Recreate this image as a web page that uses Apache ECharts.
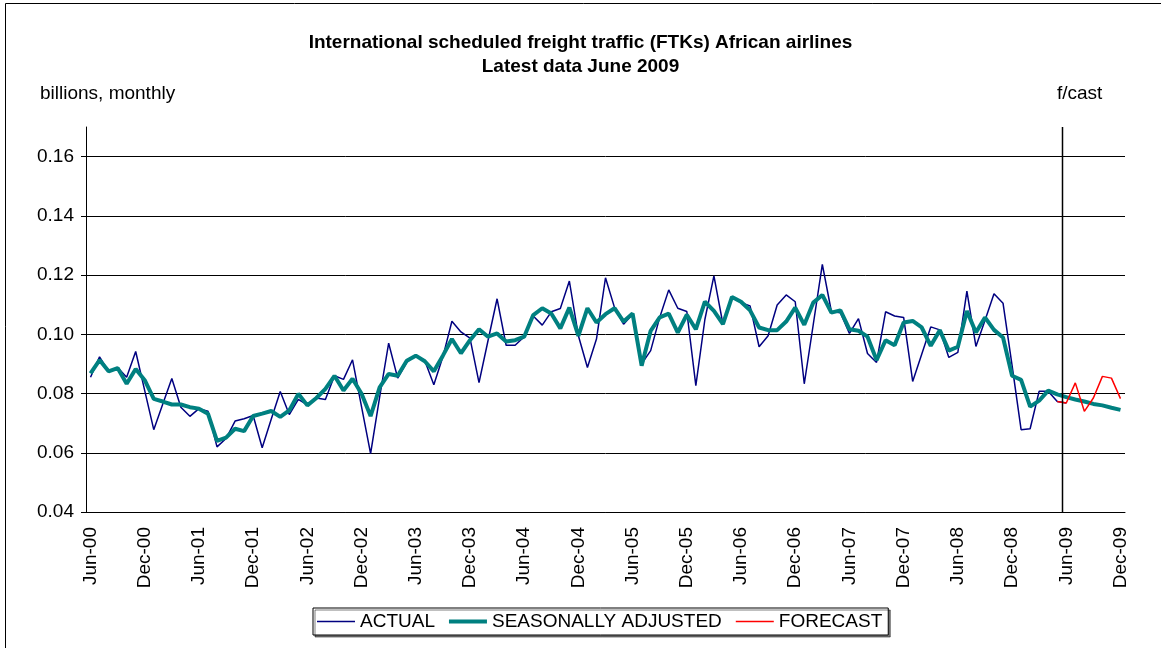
<!DOCTYPE html>
<html>
<head>
<meta charset="utf-8">
<script src="https://cdn.jsdelivr.net/npm/echarts@6/dist/echarts.min.js"></script>
<style>
html,body{margin:0;padding:0;background:#fff;}
#chart{width:1161px;height:648px;}
</style>
</head>
<body>
<div id="chart"></div>
<script>
// month labels Jun-00 .. Dec-09
const monthNames = ['Jan','Feb','Mar','Apr','May','Jun','Jul','Aug','Sep','Oct','Nov','Dec'];
const categories = [];
for (let y = 2000; y <= 2009; y++) {
    for (let m = 0; m < 12; m++) {
        if (y === 2000 && m < 5) continue;
        categories.push(monthNames[m] + '-' + String(y).slice(2));
    }
}

const yTicks = [0.04, 0.06, 0.08, 0.10, 0.12, 0.14, 0.16];

// billions FTK, Jun-00 .. Jun-09
const actual = [
    0.0855,0.0924,0.0875,0.0888,0.0855,0.0942,0.0810,0.0678,0.0765,0.0851,
    0.0754,0.0723,0.0749,0.0740,0.0620,0.0648,0.0707,0.0715,0.0726,0.0617,
    0.0713,0.0807,0.0729,0.0780,0.0762,0.0785,0.0780,0.0860,0.0848,0.0914,
    0.0755,0.0597,0.0788,0.0970,0.0852,0.0905,0.0930,0.0911,0.0830,0.0924,
    0.1044,0.1008,0.0987,0.0837,0.0979,0.1120,0.0963,0.0963,0.0992,0.1062,
    0.1031,0.1076,0.1087,0.1180,0.0995,0.0888,0.0984,0.1191,0.1090,0.1034,
    0.1068,0.0900,0.0945,0.1057,0.1150,0.1088,0.1077,0.0827,0.1050,0.1197,
    0.1034,0.1124,0.1107,0.1096,0.0958,0.0995,0.1099,0.1133,0.1110,0.0833,
    0.1034,0.1236,0.1077,0.1073,0.1003,0.1053,0.0935,0.0905,0.1076,0.1062,
    0.1057,0.0841,0.0933,0.1025,0.1015,0.0922,0.0939,0.1146,0.0959,0.1047,
    0.1137,0.1105,0.0895,0.0678,0.0681,0.0808,0.0808,0.0773,0.0768
];

// seasonally adjusted, Jun-00 .. Dec-09
const seasAdj = [
    0.0868,0.0913,0.0875,0.0886,0.0833,0.0883,0.0845,0.0782,0.0773,0.0763,
    0.0763,0.0754,0.0749,0.0732,0.0640,0.0651,0.0681,0.0673,0.0724,0.0732,
    0.0741,0.0721,0.0743,0.0799,0.0760,0.0785,0.0816,0.0860,0.0810,0.0850,
    0.0799,0.0724,0.0821,0.0866,0.0860,0.0911,0.0928,0.0909,0.0875,0.0928,
    0.0984,0.0936,0.0980,0.1017,0.0992,0.1003,0.0976,0.0980,0.0992,0.1065,
    0.1088,0.1070,0.1020,0.1090,0.0995,0.1088,0.1040,0.1068,0.1088,0.1043,
    0.1070,0.0894,0.1012,0.1057,0.1070,0.1006,0.1066,0.1017,0.1110,0.1079,
    0.1034,0.1126,0.1110,0.1081,0.1023,0.1014,0.1014,0.1043,0.1090,0.1032,
    0.1107,0.1133,0.1073,0.1081,0.1017,0.1012,0.0992,0.0913,0.0980,0.0963,
    0.1040,0.1045,0.1023,0.0961,0.1014,0.0945,0.0958,0.1079,0.1006,0.1057,
    0.1015,0.0989,0.0860,0.0846,0.0756,0.0776,0.0810,0.0797,0.0788,0.0780,
    0.0773,0.0765,0.0760,0.0752,0.0745
];

// forecast, May-09 .. Dec-09
const forecastStart = 'May-09';
const forecast = [0.0773,0.0768,0.0836,0.0740,0.0785,0.0858,0.0852,0.0783];

const fStartIdx = categories.indexOf(forecastStart);
const forecastData = categories.map((c, i) => i >= fStartIdx ? forecast[i - fStartIdx] : '-');

const font = 'Arial, "Liberation Sans", sans-serif';

const chart = echarts.init(document.getElementById('chart'));
const option = {
    animation: false,
    backgroundColor: '#fff',
    textStyle: { fontFamily: font, color: '#000' },
    title: [{
        text: 'International scheduled freight traffic (FTKs) African airlines\nLatest data June 2009',
        left: 'center',
        top: 26,
        textStyle: { fontSize: 19, fontWeight: 'bold', lineHeight: 24, fontFamily: font, color: '#000' }
    }, {
        text: 'billions, monthly',
        left: 35,
        top: 79,
        textStyle: { fontSize: 19, fontWeight: 'normal', fontFamily: font, color: '#000' }
    }, {
        text: 'f/cast',
        left: 1052,
        top: 79,
        textStyle: { fontSize: 19, fontWeight: 'normal', fontFamily: font, color: '#000' }
    }],
    grid: { left: 86, right: 36, top: 127, bottom: 136 },
    legend: {
        left: 313,
        top: 608,
        padding: [4, 6, 4, 4],
        itemGap: 14,
        itemWidth: 38,
        itemHeight: 14,
        backgroundColor: '#fff',
        borderColor: '#000',
        borderWidth: 1,
        borderRadius: 0,
        shadowColor: 'rgba(0,0,0,0.5)',
        shadowOffsetX: 2,
        shadowOffsetY: 2,
        textStyle: { fontSize: 19, fontFamily: font, color: '#000' },
        data: [
            { name: 'ACTUAL', icon: 'path://M0,0H38V1.6H0Z', itemStyle: { color: '#000080', borderWidth: 0 } },
            { name: 'SEASONALLY ADJUSTED', icon: 'path://M0,0H38V4H0Z', itemStyle: { color: '#008080', borderWidth: 0 } },
            { name: 'FORECAST', icon: 'path://M0,0H38V1.6H0Z', itemStyle: { color: '#ff0000', borderWidth: 0 } }
        ]
    },
    xAxis: {
        type: 'category',
        data: categories,
        boundaryGap: true,
        axisLine: { lineStyle: { color: '#000', width: 1 } },
        axisTick: { interval: 5, length: 5, lineStyle: { color: '#000' } },
        axisLabel: { interval: 5, rotate: 90, margin: 15, fontSize: 19, color: '#000', fontFamily: font },
        splitLine: { show: false }
    },
    yAxis: {
        type: 'value',
        min: 0.04,
        max: 0.17,
        interval: 0.02,
        axisLine: { show: true, lineStyle: { color: '#000', width: 1 } },
        axisTick: { show: true, length: 5, lineStyle: { color: '#000' } },
        axisLabel: {
            margin: 12,
            fontSize: 19,
            color: '#000',
            fontFamily: font,
            showMaxLabel: false,
            formatter: v => yTicks.indexOf(+v.toFixed(2)) >= 0 ? v.toFixed(2) : ''
        },
        splitLine: { show: true, showMaxLine: false, lineStyle: { color: '#000', width: 1 } }
    },
    series: [{
        name: 'ACTUAL',
        type: 'line',
        data: actual,
        symbol: 'none',
        lineStyle: { color: '#000080', width: 1.5 },
        itemStyle: { color: '#000080' }
    }, {
        name: 'SEASONALLY ADJUSTED',
        type: 'line',
        data: seasAdj,
        symbol: 'none',
        lineStyle: { color: '#008080', width: 4 },
        itemStyle: { color: '#008080' }
    }, {
        name: 'FORECAST',
        type: 'line',
        data: forecastData,
        symbol: 'none',
        lineStyle: { color: '#ff0000', width: 1.5 },
        itemStyle: { color: '#ff0000' }
    }]
};
chart.setOption(option);

// forecast divider between May-09 and Jun-09, outer frame
const xa = chart.convertToPixel({ xAxisIndex: 0 }, fStartIdx);
const xb = chart.convertToPixel({ xAxisIndex: 0 }, fStartIdx + 1);
const divX = Math.round((xa + xb) / 2) + 0.5;
const yTop = chart.convertToPixel({ yAxisIndex: 0 }, 0.17);
const yBot = chart.convertToPixel({ yAxisIndex: 0 }, 0.04);
chart.setOption({
    graphic: [{
        type: 'line',
        shape: { x1: divX, y1: yTop, x2: divX, y2: yBot },
        style: { stroke: '#000', lineWidth: 1.5 },
        z: 10
    }, {
        type: 'rect',
        shape: { x: 5.5, y: 3.5, width: 1200, height: 700 },
        style: { fill: 'none', stroke: '#000', lineWidth: 1 },
        silent: true
    }]
});
</script>
</body>
</html>
